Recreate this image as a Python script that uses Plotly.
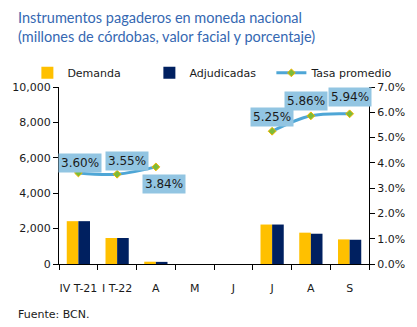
import plotly.graph_objects as go

categorias = ["IV T-21", "I T-22", "A", "M", "J", "J", "A", "S"]
demanda = [2420, 1470, 130, 0, 0, 2230, 1770, 1390]
adjudicadas = [2420, 1470, 120, 0, 0, 2230, 1710, 1370]
tasa = [3.60, 3.55, 3.84, None, None, 5.25, 5.86, 5.94]
etiquetas_tasa = ["3.60%", "3.55%", "3.84%", None, None, "5.25%", "5.86%", "5.94%"]
left_ticks = [0, 2000, 4000, 6000, 8000, 10000]
right_ticks = [0, 1, 2, 3, 4, 5, 6, 7]

xs = list(range(len(categorias)))
bounds = [i - 0.5 for i in range(len(categorias) + 1)]

fig = go.Figure()
fig.add_trace(go.Bar(x=xs, y=demanda, name="Demanda", marker=dict(color="#FFC000", line=dict(width=0))))
fig.add_trace(go.Bar(x=xs, y=adjudicadas, name="Adjudicadas", marker=dict(color="#002060", line=dict(width=0))))
fig.add_trace(go.Scatter(x=xs, y=tasa, name="Tasa promedio", yaxis="y2", mode="lines+markers",
                         line=dict(color="#4EA6D6", width=3, shape="spline"),
                         marker=dict(symbol="diamond", size=6, color="#7DBB3A", line=dict(color="#F2B700", width=1)),
                         connectgaps=False))

offsets = {0: (2, 10), 1: (10, 13), 2: (8, -17), 5: (0, 14), 6: (-5, 15), 7: (0, 17)}
for i, (v, t) in enumerate(zip(tasa, etiquetas_tasa)):
    if v is None:
        continue
    dx, dy = offsets[i]
    fig.add_annotation(x=xs[i], y=v, xref="x", yref="y2", text=t, showarrow=False,
                       xshift=dx, yshift=dy, bgcolor="#92C5E2", borderpad=2,
                       font=dict(family="DejaVu Sans", size=12, color="#1A1A1A"))

title_font = dict(family="Lato", size=14.5, color="#3568B2")
fig.add_annotation(x=0, y=1, xref="paper", yref="paper", xanchor="left", yanchor="middle",
                   xshift=-43, yshift=70, text="Instrumentos pagaderos en moneda nacional",
                   showarrow=False, font=title_font)
fig.add_annotation(x=0, y=1, xref="paper", yref="paper", xanchor="left", yanchor="middle",
                   xshift=-43, yshift=51, text="(millones de córdobas, valor facial y porcentaje)",
                   showarrow=False, font=title_font)
fig.add_annotation(x=0, y=0, xref="paper", yref="paper", xanchor="left", yanchor="middle",
                   xshift=-43, yshift=-50, text="Fuente: BCN.", showarrow=False,
                   font=dict(family="DejaVu Sans", size=11, color="#1A1A1A"))

fig.update_layout(
    width=417, height=327,
    margin=dict(l=49, r=47, t=87, b=63),
    paper_bgcolor="white", plot_bgcolor="white",
    barmode="group", bargap=0.4, bargroupgap=0,
    legend=dict(orientation="h", x=-0.102, xanchor="left", y=1.08, yanchor="middle",
                font=dict(family="DejaVu Sans", size=11, color="#1A1A1A"),
                entrywidth=77, entrywidthmode="pixels",
                itemwidth=30, bgcolor="rgba(0,0,0,0)"),
    xaxis=dict(tickvals=xs, ticktext=categorias, range=[-0.5, 7.5], showline=True, linecolor="black",
               linewidth=1, ticks="", showgrid=False, zeroline=False, ticklabelstandoff=14,
               minor=dict(tickvals=bounds, ticks="outside", ticklen=5, tickcolor="black"),
               tickfont=dict(family="DejaVu Sans", size=11, color="#1A1A1A")),
    yaxis=dict(range=[0, 10000], tickvals=left_ticks, tickformat=",", showline=True, linecolor="black",
               ticks="outside", ticklen=5, tickcolor="black", showgrid=False, zeroline=False,
               tickfont=dict(family="DejaVu Sans", size=11, color="#1A1A1A")),
    yaxis2=dict(range=[0, 7], tickvals=right_ticks, ticktext=[f"{v:.1f}%" for v in right_ticks],
                overlaying="y", side="right", showline=True, linecolor="black",
                ticks="outside", ticklen=5, tickcolor="black", showgrid=False, zeroline=False,
                tickfont=dict(family="DejaVu Sans", size=11, color="#1A1A1A")),
)

fig.write_html("out.html")
